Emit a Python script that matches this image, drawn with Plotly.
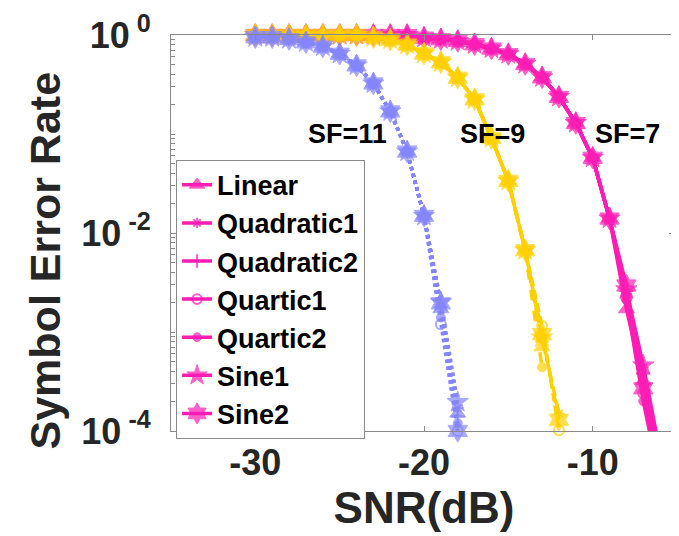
import math
import plotly.graph_objects as go

# ---------------- data ----------------
curve_names = ["Linear", "Quadratic1", "Quadratic2", "Quartic1", "Quartic2", "Sine1", "Sine2"]

# SF = 7
snr_sf7 = [-30, -29, -28, -27, -26, -25, -24, -23, -22, -21, -20, -19, -18, -17, -16,
           -15, -14, -13, -12, -11, -10, -9, -8, -7, -6]
ser_sf7_head = [1, 1, 1, 1, 1, 1, 1, 1, 1, 1, 0.94, 0.906, 0.87, 0.807, 0.73,
                0.641, 0.509, 0.374, 0.237, 0.129, 0.0575, 0.014]
tail_sf7_linear = [0.0017, 3.2e-4, 4.0e-5]
tail_sf7_quad1 = [0.0024, 4.4e-4, 5.0e-5]
tail_sf7_quad2 = [0.0026, 3.8e-4, 5.0e-5]
tail_sf7_quart1 = [0.0022, 2.4e-4, 3.0e-5]
tail_sf7_quart2 = [0.0021, 2.0e-4, 3.0e-5]
tail_sf7_sine1 = [0.0027, 4.6e-4, 6.0e-5]
tail_sf7_sine2 = [0.00295, 2.7e-4, 4.5e-5]

# SF = 9
snr_sf9 = [-30, -29, -28, -27, -26, -25, -24, -23, -22, -21, -20, -19, -18, -17, -16,
           -15, -14, -13, -12]
ser_sf9_head = [1, 1, 1, 1, 1, 1, 1, 0.95, 0.90, 0.80, 0.65, 0.53, 0.37, 0.224, 0.091,
                0.0336, 0.0067]
tail_sf9_linear = [7.0e-4, None]
tail_sf9_quad1 = [8.8e-4, 1.5e-4]
tail_sf9_quad2 = [8.0e-4, None]
tail_sf9_quart1 = [1.15e-3, 1.02e-4]
tail_sf9_quart2 = [4.4e-4, None]
tail_sf9_sine1 = [8.8e-4, None]
tail_sf9_sine2 = [9.5e-4, 1.3e-4]

# SF = 11
snr_sf11 = [-30, -29, -28, -27, -26, -25, -24, -23, -22, -21, -20, -19, -18]
ser_sf11_head = [0.95, 0.95, 0.91, 0.845, 0.764, 0.646, 0.493, 0.324, 0.169, 0.0665, 0.0149]
tail_sf11_linear = [0.0017, 1.5e-4]
tail_sf11_quad1 = [0.0019, 1.7e-4]
tail_sf11_quad2 = [0.0018, 1.4e-4]
tail_sf11_quart1 = [0.0012, 1.0e-4]
tail_sf11_quart2 = [0.0014, 1.2e-4]
tail_sf11_sine1 = [0.0020, 1.96e-4]
tail_sf11_sine2 = [0.00195, 1.0e-4]

sf_labels = ["SF=11", "SF=9", "SF=7"]
sf_label_x = [-27, -18, -10]
sf_label_y = [0.1, 0.1, 0.1]

x_tick_vals = [-30, -20, -10]
x_tick_text = ["-30", "-20", "-10"]
y_tick_vals = [1e-4, 1e-2, 1]
y_tick_text = ["10<sup> -4</sup>", "10<sup> -2</sup>", "10<sup> 0</sup>"]
y_title = "Symbol Error Rate"
x_title = "SNR(dB)"

# ---------------- styles ----------------
FONT = "Arial, 'Liberation Sans', Helvetica, sans-serif"
gold_dashes = ["dash", "10px,5px", "14px,6px", "9px,4px", "dash", "12px,5px", "dash"]
groups = [
    dict(x=snr_sf7, head=ser_sf7_head,
         tails=[tail_sf7_linear, tail_sf7_quad1, tail_sf7_quad2, tail_sf7_quart1,
                tail_sf7_quart2, tail_sf7_sine1, tail_sf7_sine2],
         color="#FF1DB5", dashes=["solid"] * 7, width=3.5, legend=True),
    dict(x=snr_sf9, head=ser_sf9_head,
         tails=[tail_sf9_linear, tail_sf9_quad1, tail_sf9_quad2, tail_sf9_quart1,
                tail_sf9_quart2, tail_sf9_sine1, tail_sf9_sine2],
         color="#FFD000", dashes=gold_dashes, width=3.5, legend=False),
    dict(x=snr_sf11, head=ser_sf11_head,
         tails=[tail_sf11_linear, tail_sf11_quad1, tail_sf11_quad2, tail_sf11_quart1,
                tail_sf11_quart2, tail_sf11_sine1, tail_sf11_sine2],
         color="#8585FF", dashes=["dot"] * 7, width=3.5, legend=False),
]
symbols = ["triangle-up", "asterisk-open", "cross-thin-open", "circle-open", "circle", "star", "hexagram"]
sym_sizes = [14, 9, 10, 10, 9, 16, 17]
YMIN = 1e-4

fig = go.Figure()
for g in groups:
    for name, tail, sym, sz, dsh in zip(curve_names, g["tails"], symbols, sym_sizes, g["dashes"]):
        y = g["head"] + tail
        x = g["x"][:len(y)]
        sizes = [sz if (v is not None and v >= YMIN * 0.99) else 0 for v in y]
        fig.add_trace(go.Scatter(
            x=x, y=y, name=name, mode="lines+markers",
            showlegend=g["legend"], cliponaxis=False, connectgaps=False,
            line=dict(color=g["color"], width=g["width"], dash=dsh),
            marker=dict(symbol=sym, size=sizes, color=g["color"],
                        line=dict(color=g["color"], width=2 if sym.endswith("open") else 1)),
        ))

for txt, lx, ly in zip(sf_labels, sf_label_x, sf_label_y):
    fig.add_annotation(x=lx, y=math.log10(ly), text="<b>%s</b>" % txt,
                       showarrow=False, xanchor="left", yanchor="middle",
                       font=dict(family=FONT, size=27, color="black"))

# y-axis title (placed as rotated text, like the reference which sits below centre)
fig.add_annotation(x=-0.2495, y=0.43, xref="paper", yref="paper", text="<b>%s</b>" % y_title,
                   textangle=-90, showarrow=False, xanchor="center", yanchor="middle",
                   font=dict(family=FONT, size=43, color="#262626"))

axis_common = dict(showline=True, linecolor="#8a8a8a", linewidth=1, mirror="allticks",
                   ticks="inside", tickcolor="#8a8a8a", showgrid=False, zeroline=False,
                   ticklabeloverflow="allow")

minor_vals = []
for e in (-4, -3, -2, -1):
    for m in range(2, 10):
        minor_vals.append(m * 10 ** e)
minor_vals += [1e-3, 1e-1]

fig.update_layout(
    width=671, height=528,
    margin=dict(l=163, r=1, t=24, b=105),
    paper_bgcolor="white", plot_bgcolor="white",
    font=dict(family=FONT, color="#262626"),
    xaxis=dict(range=[-35, -5], tickvals=x_tick_vals, ticktext=x_tick_text, ticklen=5,
               tickfont=dict(size=36, family=FONT, color="#262626", weight="bold"),
               title=dict(text="<b>%s</b>" % x_title, font=dict(size=44, family=FONT, color="#262626"),
                          standoff=2),
               **axis_common),
    yaxis=dict(type="log", range=[-4, 0], tickvals=y_tick_vals, ticktext=y_tick_text, ticklen=8,
               ticklabelstandoff=12,
               tickfont=dict(size=36, family=FONT, color="#262626", weight="bold"),
               minor=dict(tickmode="array", tickvals=minor_vals, ticks="inside", ticklen=4,
                          tickcolor="#8a8a8a", showgrid=False),
               **axis_common),
    legend=dict(x=0.01, y=0.685, xanchor="left", yanchor="top",
                bgcolor="white", bordercolor="#8a8a8a", borderwidth=1,
                font=dict(size=27, family=FONT, color="black", weight="bold"),
                itemwidth=30, tracegroupgap=0),
)

fig.write_html("out.html")
